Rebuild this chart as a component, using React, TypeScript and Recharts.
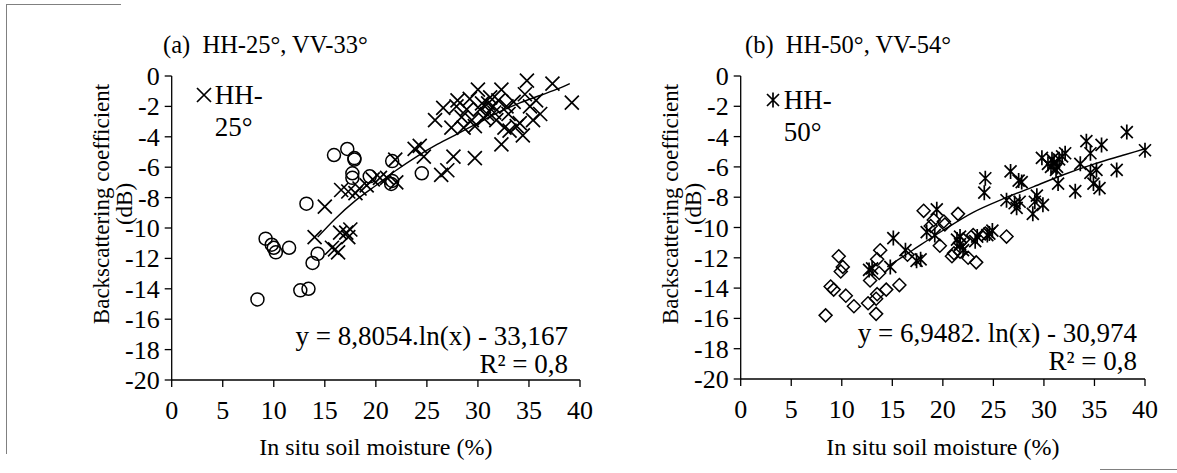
import React from "react";
import { Scatter, ScatterChart, XAxis, YAxis } from "recharts";

const FONT = '"Liberation Serif", "Times New Roman", serif';

const xTicks = [0, 5, 10, 15, 20, 25, 30, 35, 40];
const yTicks = [-20, -18, -16, -14, -12, -10, -8, -6, -4, -2, 0];

// (a) circles (VV-33°)
const circA_x = [8.4, 9.2, 9.8, 10.0, 10.2, 11.5, 12.6, 13.4, 13.2, 13.8, 14.3, 15.9, 17.2, 17.9, 17.9, 17.7, 17.7, 19.4, 21.6, 21.5, 21.6, 24.5];
const circA_y = [-14.7, -10.7, -11.1, -11.3, -11.6, -11.3, -14.1, -14.0, -8.4, -12.3, -11.7, -5.2, -4.8, -5.4, -5.5, -6.4, -6.7, -6.6, -5.6, -7.1, -6.9, -6.4];

// (a) crosses (HH-25°)
const crossA_x = [15.0, 14.0, 16.6, 17.3, 18.0, 18.4, 19.1, 19.7, 20.4, 21.1, 22.0, 21.9, 23.8, 15.7, 16.0, 16.3, 16.5, 17.1, 17.3, 17.5, 24.7, 27.6, 26.4, 27.0, 29.7, 32.3, 39.2, 34.8, 37.3, 25.8, 26.6, 27.4, 27.9, 28.4, 28.9, 29.4, 29.7, 30.0, 30.4, 30.9, 31.2, 31.5, 31.8, 32.3, 32.6, 33.0, 33.1, 33.5, 34.1, 34.4, 35.1, 35.4, 35.7, 36.1, 29.2, 30.6, 31.0, 31.6, 32.0, 32.8, 30.2, 28.6, 33.8, 34.6, 28.0, 24.3];
const crossA_y = [-8.6, -10.6, -7.5, -7.6, -7.7, -7.4, -7.2, -6.8, -6.7, -6.7, -7.0, -5.5, -4.8, -11.3, -11.4, -11.6, -10.3, -10.3, -10.6, -10.1, -5.3, -5.3, -6.5, -6.2, -5.4, -4.5, -1.75, -0.3, -0.5, -2.9, -2.1, -3.4, -2.0, -2.7, -2.2, -2.9, -3.3, -0.9, -1.8, -2.5, -1.4, -2.0, -2.9, -0.9, -3.4, -2.5, -3.6, -1.7, -3.1, -3.9, -2.0, -2.9, -1.6, -2.5, -1.5, -2.8, -1.8, -2.4, -1.6, -2.0, -2.2, -3.4, -3.3, -1.2, -1.6, -4.6];

// (a) trend line
const trendA_x = [14.3, 16, 18, 20, 22, 24, 26, 28, 30, 32, 34, 36, 38, 39];
const trendA_y = [-10.6, -9.4, -8.2, -7.2, -6.2, -5.3, -4.5, -3.8, -3.1, -2.4, -1.8, -1.3, -0.8, -0.5];

// (b) diamonds (VV-54°)
const diaB_x = [8.4, 8.9, 9.2, 9.7, 10.1, 9.9, 10.4, 11.2, 12.6, 12.8, 13.4, 13.5, 13.4, 13.5, 13.8, 13.7, 14.4, 15.7, 16.5, 18.1, 18.8, 19.1, 19.7, 20.1, 20.2, 21.5, 21.1, 21.7, 22.5, 23.3, 22.0, 21.7, 20.9, 26.3, 23.0, 24.2];
const diaB_y = [-15.8, -13.9, -14.1, -11.9, -12.6, -12.9, -14.5, -15.2, -15.0, -13.5, -14.7, -14.4, -15.7, -12.1, -11.5, -13.0, -14.1, -13.8, -11.8, -8.9, -9.9, -9.5, -11.2, -9.6, -9.8, -9.1, -11.7, -11.6, -12.0, -12.3, -10.8, -11.0, -11.9, -10.6, -10.5, -10.4];

// (b) asterisks (HH-50°)
const starB_x = [12.7, 13.0, 14.8, 15.1, 16.3, 17.4, 17.8, 18.4, 19.4, 19.2, 21.4, 21.7, 21.7, 22.0, 23.2, 23.4, 24.4, 24.9, 24.2, 24.1, 26.7, 27.5, 27.8, 26.3, 27.1, 27.6, 27.3, 28.9, 29.3, 29.9, 31.4, 33.1, 29.8, 30.4, 30.7, 31.0, 31.3, 31.5, 31.8, 32.1, 30.8, 31.2, 33.6, 34.2, 34.6, 35.7, 34.6, 34.9, 35.5, 35.2, 37.2, 38.2, 40.0, 29.1, 24.6];
const starB_y = [-12.8, -12.7, -12.6, -10.7, -11.5, -12.2, -12.1, -10.3, -8.8, -10.5, -10.8, -10.6, -11.1, -11.5, -10.9, -10.6, -10.5, -10.2, -6.75, -7.7, -6.3, -6.9, -7.0, -8.2, -8.4, -8.3, -8.7, -9.1, -7.9, -8.5, -7.1, -7.6, -5.4, -5.8, -6.0, -5.7, -6.0, -5.5, -5.3, -5.1, -5.5, -6.2, -5.8, -4.3, -5.1, -4.55, -6.4, -7.1, -7.4, -6.2, -6.2, -3.7, -4.9, -8.3, -10.4];

// (b) trend line
const trendB_x = [14.5, 17, 20, 23, 26, 29, 32, 35, 38, 40];
const trendB_y = [-12.6, -11.5, -10.2, -9.0, -8.1, -7.3, -6.5, -5.8, -5.2, -4.8];

const pts = (xs: number[], ys: number[]) => xs.map((x, i) => ({ x, y: ys[i] }));

const XMark = ({ cx, cy }: any) => (
  <path d={`M${cx - 7},${cy - 7}L${cx + 7},${cy + 7}M${cx - 7},${cy + 7}L${cx + 7},${cy - 7}`} stroke="#000" strokeWidth={1.7} fill="none" />
);
const CircleMark = ({ cx, cy }: any) => <circle cx={cx} cy={cy} r={6.5} stroke="#000" strokeWidth={1.5} fill="none" />;
const DiamondMark = ({ cx, cy }: any) => (
  <path d={`M${cx},${cy - 6.5}L${cx + 6.5},${cy}L${cx},${cy + 6.5}L${cx - 6.5},${cy}Z`} stroke="#000" strokeWidth={1.5} fill="none" />
);
const StarMark = ({ cx, cy }: any) => (
  <path d={`M${cx - 6},${cy - 6}L${cx + 6},${cy + 6}M${cx - 6},${cy + 6}L${cx + 6},${cy - 6}M${cx},${cy - 7.5}L${cx},${cy + 7.5}`} stroke="#000" strokeWidth={1.7} fill="none" />
);
const NoMark = () => <g />;

const XTick = ({ x, y, payload }: any) => (
  <text x={x} y={y + 32} textAnchor="middle" fontSize={26} fill="#000" fontFamily="Liberation Serif" style={{ fontFamily: FONT }}>
    {payload.value}
  </text>
);
const YTick = ({ x, y, payload }: any) => (
  <text x={x} y={y + 9} textAnchor="end" fontSize={26} fill="#000" fontFamily="Liberation Serif" style={{ fontFamily: FONT }}>
    {payload.value}
  </text>
);

const YTitle = ({ cx }: { cx: number }) => (
  <g fontSize={23} fill="#000" fontFamily="Liberation Serif" style={{ fontFamily: FONT }}>
    <text x={cx - 70.5} y={204} transform={`rotate(-90 ${cx - 70.5} 204)`} textAnchor="middle" dominantBaseline="central">
      Backscattering coefficient
    </text>
    <text x={cx - 47.5} y={204} transform={`rotate(-90 ${cx - 47.5} 204)`} textAnchor="middle" dominantBaseline="central">
      (dB)
    </text>
  </g>
);

const XTitle = ({ cx }: { cx: number }) => (
  <text x={cx} y={447} textAnchor="middle" dominantBaseline="central" fontSize={24} fill="#000" fontFamily="Liberation Serif" style={{ fontFamily: FONT }}>
    In situ soil moisture (%)
  </text>
);

interface PanelProps {
  left: number;
  width: number;
  yw: number;
  right: number;
  xh: number;
  title: string;
  titleLeft: number;
  legend: [string, string];
  legendTop: number;
  Legend: (p: any) => React.ReactElement;
  open: any[];
  OpenMark: (p: any) => React.ReactElement;
  filled: any[];
  trend: any[];
  eq: string;
  eqRight: number;
  eqTop: number;
}

const Panel = (p: PanelProps) => {
  const plotW = p.width - p.yw - p.right;
  const Lg = p.Legend;
  return (
    <div style={{ position: "absolute", left: p.left, top: 0, width: p.width, height: 473, fontFamily: FONT }}>
      <ScatterChart width={p.width} height={473} margin={{ top: 76, right: p.right, bottom: 0, left: 0 }}>
        <XAxis
          type="number"
          dataKey="x"
          domain={[0, 40]}
          ticks={xTicks}
          interval={0}
          height={p.xh}
          tickSize={7}
          tickMargin={0}
          tick={<XTick />}
          stroke="#000"
          strokeWidth={1.3}
          label={<XTitle cx={p.yw + plotW / 2} />}
        />
        <YAxis
          type="number"
          dataKey="y"
          domain={[-20, 0]}
          ticks={yTicks}
          interval={0}
          width={p.yw}
          tickSize={7}
          tickMargin={5}
          tick={<YTick />}
          stroke="#000"
          strokeWidth={1.3}
          label={<YTitle cx={p.yw} />}
        />
        <Scatter data={p.open} shape={p.OpenMark} isAnimationActive={false} />
        <Scatter data={p.filled} shape={p.Legend} isAnimationActive={false} />
        <Scatter
          data={p.trend}
          shape={NoMark}
          line={{ stroke: "#000", strokeWidth: 1.4 }}
          lineJointType="monotoneX"
          isAnimationActive={false}
        />
      </ScatterChart>
      <div style={{ position: "absolute", left: p.yw + p.titleLeft, top: 31, fontSize: 24.5, whiteSpace: "pre", lineHeight: "28px" }}>
        {p.title}
      </div>
      <div style={{ position: "absolute", left: p.yw + 43, top: p.legendTop, fontSize: 27, lineHeight: "32px" }}>
        <svg width={16} height={18} style={{ position: "absolute", left: -19, top: 7 }}>
          <Lg cx={8} cy={9} />
        </svg>
        <div>{p.legend[0]}</div>
        <div>{p.legend[1]}</div>
      </div>
      <div style={{ position: "absolute", right: p.eqRight, top: p.eqTop, fontSize: 27, lineHeight: "28px", textAlign: "right", whiteSpace: "pre" }}>
        <div>{p.eq}</div>
        <div>R² = 0,8</div>
      </div>
    </div>
  );
};

export default function App() {
  return (
    <div style={{ position: "absolute", left: 0, top: 0, width: 1177, height: 473, background: "#fff", overflow: "hidden", fontFamily: FONT }}>
      <div style={{ position: "absolute", left: 6, top: 4, width: 114, height: 449, borderLeft: "1px solid #808080", borderTop: "1px solid #808080" }} />
      <div style={{ position: "absolute", left: 1100, top: 469, width: 77, height: 0, borderTop: "1px solid #808080" }} />
      <Panel
        left={0}
        width={600}
        yw={171.7}
        right={20}
        xh={93}
        title={"(a)  HH-25°, VV-33°"}
        titleLeft={-8.7}
        legend={["HH-", "25°"]}
        legendTop={79}
        Legend={XMark}
        open={pts(circA_x, circA_y)}
        OpenMark={CircleMark}
        filled={pts(crossA_x, crossA_y)}
        trend={pts(trendA_x, trendA_y)}
        eq="y = 8,8054.ln(x) - 33,167"
        eqRight={32}
        eqTop={322}
      />
      <Panel
        left={600}
        width={577}
        yw={140.7}
        right={32}
        xh={94}
        title={"(b)  HH-50°, VV-54°"}
        titleLeft={4.3}
        legend={["HH-", "50°"]}
        legendTop={84}
        Legend={StarMark}
        open={pts(diaB_x, diaB_y)}
        OpenMark={DiamondMark}
        filled={pts(starB_x, starB_y)}
        trend={pts(trendB_x, trendB_y)}
        eq="y = 6,9482. ln(x) - 30,974"
        eqRight={40}
        eqTop={319}
      />
    </div>
  );
}
